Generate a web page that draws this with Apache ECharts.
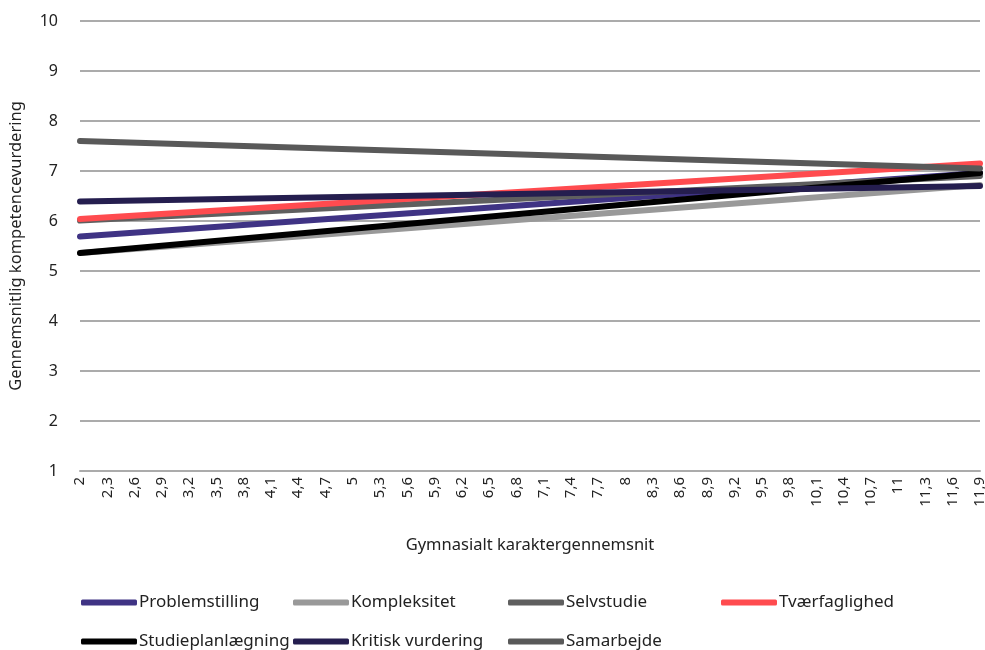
<!DOCTYPE html>
<html>
<head>
<meta charset="utf-8">
<script src="https://cdn.jsdelivr.net/npm/echarts@6/dist/echarts.min.js"></script>
<style>
html,body{margin:0;padding:0;background:#fff;}
#chart{width:985px;height:650px;}
</style>
</head>
<body>
<div id="chart"></div>
<script>
const categories = ['2','2,3','2,6','2,9','3,2','3,5','3,8','4,1','4,4','4,7','5','5,3','5,6','5,9','6,2','6,5','6,8','7,1','7,4','7,7','8','8,3','8,6','8,9','9,2','9,5','9,8','10,1','10,4','10,7','11','11,3','11,6','11,9'];
const seriesNames = ['Problemstilling','Kompleksitet','Selvstudie','Tværfaglighed','Studieplanlægning','Kritisk vurdering','Samarbejde'];
const seriesColors = ['#3F3384','#999999','#5F5F5F','#FF4B4F','#000000','#251E4F','#595959'];
// values at first (2) and last (11,9) category
const startValues = [5.69, 5.36, 6.01, 6.04, 5.36, 6.39, 7.60];
const endValues   = [6.96, 6.72, 6.90, 7.15, 6.96, 6.70, 7.05];
const yTicks = {min: 1, max: 10, interval: 1};

const FONT = 'Noto Sans';
const chart = echarts.init(document.getElementById('chart'));

const series = seriesNames.map((n, i) => ({
  name: n,
  type: 'line',
  data: [[categories[0], startValues[i]], [categories[categories.length-1], endValues[i]]],
  showSymbol: false,
  symbol: 'none',
  lineStyle: {color: seriesColors[i], width: 6, cap: 'round'},
  itemStyle: {color: seriesColors[i]},
  animation: false
}));

const legendLefts = [76, 288, 503, 716, 76, 288, 503];
const legendTops  = [589, 589, 589, 589, 628, 628, 628];
const legends = seriesNames.map((n, i) => ({
  data: [n],
  left: legendLefts[i],
  top: legendTops[i],
  itemWidth: 56,
  itemHeight: 6,
  icon: 'roundRect',
  textStyle: {fontFamily: FONT, fontSize: 17, color: '#222', padding: [0,0,0,-3]},
  selectedMode: false
}));

chart.setOption({
  animation: false,
  textStyle: {fontFamily: FONT},
  grid: {left: 80, right: 5, top: 21, bottom: 179, containLabel: false, outerBoundsMode: 'none'},
  legend: legends,
  xAxis: {
    type: 'category',
    data: categories,
    boundaryGap: false,
    name: 'Gymnasialt karaktergennemsnit',
    nameLocation: 'middle',
    nameGap: 66,
    nameTextStyle: {fontFamily: FONT, fontSize: 16.5, color: '#222'},
    axisLine: {lineStyle: {color: '#ABABAB', width: 2}},
    axisTick: {show: false},
    axisLabel: {rotate: 90, interval: 0, margin: 6, fontFamily: FONT, fontSize: 15, color: '#222'}
  },
  yAxis: {
    type: 'value',
    min: yTicks.min, max: yTicks.max, interval: yTicks.interval,
    name: 'Gennemsnitlig kompetencevurdering',
    nameLocation: 'middle',
    nameGap: 55,
    nameTextStyle: {fontFamily: FONT, fontSize: 16.5, color: '#222'},
    axisLine: {show: false},
    axisTick: {show: false},
    axisLabel: {margin: 22, fontFamily: FONT, fontSize: 16, color: '#222'},
    splitLine: {lineStyle: {color: '#ABABAB', width: 2}}
  },
  series: series
});
</script>
</body>
</html>
